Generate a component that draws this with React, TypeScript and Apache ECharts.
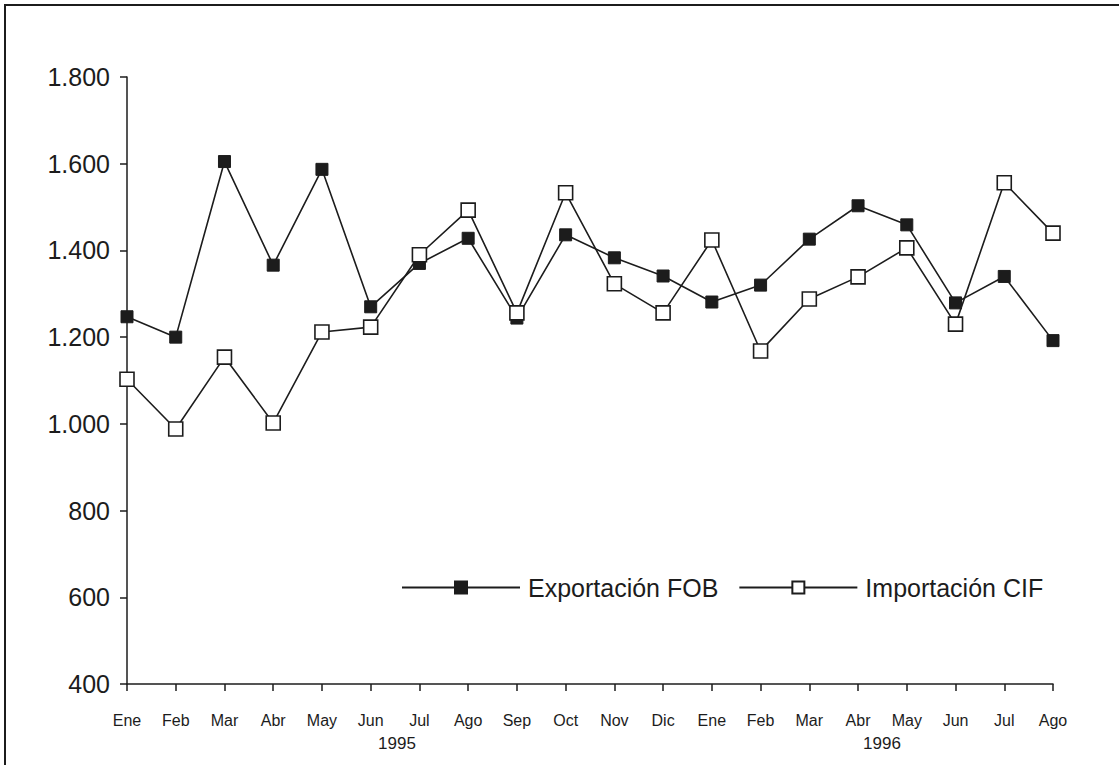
import React, { useEffect, useRef } from "react";
import * as echarts from "echarts";

const months = ["Ene","Feb","Mar","Abr","May","Jun","Jul","Ago","Sep","Oct","Nov","Dic","Ene","Feb","Mar","Abr","May","Jun","Jul","Ago"];
const exportacionFOB = [1247,1200,1605,1366,1587,1270,1370,1428,1244,1436,1383,1341,1281,1320,1426,1503,1459,1279,1340,1192];
const importacionCIF = [1103,988,1154,1002,1212,1223,1390,1493,1256,1533,1323,1256,1424,1168,1288,1339,1406,1230,1556,1440];
const yearLabels = ["1995", "1996"];
const seriesNames = ["Exportación FOB", "Importación CIF"];

const FONT = "'Liberation Sans', Arial, Helvetica, sans-serif";
const INK = "#1c1c1c";

export default function App() {
  const ref = useRef<HTMLDivElement>(null);
  useEffect(() => {
    if (!ref.current) return;
    const chart = echarts.init(ref.current, null, { renderer: "svg" });
    chart.setOption({
      animation: false,
      backgroundColor: "#ffffff",
      grid: { left: 127, right: 66, top: 77, bottom: 81, containLabel: false },
      xAxis: {
        type: "category",
        data: months,
        boundaryGap: false,
        axisLine: { lineStyle: { color: INK, width: 1.5 } },
        axisTick: { show: true, length: 7, lineStyle: { color: INK, width: 1.5 } },
        axisLabel: { color: INK, fontSize: 16, fontFamily: FONT, margin: 28, interval: 0 },
        splitLine: { show: false },
      },
      yAxis: {
        type: "value",
        min: 400,
        max: 1800,
        interval: 200,
        axisLine: { show: true, lineStyle: { color: INK, width: 1.5 } },
        axisTick: { show: true, inside: false, length: 7, lineStyle: { color: INK, width: 1.5 } },
        axisLabel: {
          color: INK,
          fontSize: 25,
          fontFamily: FONT,
          margin: 17,
          formatter: (v: number) => String(v).replace(/\B(?=(\d{3})+(?!\d))/g, "."),
        },
        splitLine: { show: false },
      },
      legend: {
        left: 401,
        top: 575,
        padding: 0,
        itemWidth: 118,
        itemHeight: 15,
        itemGap: 20,
        textStyle: { color: INK, fontSize: 25, fontFamily: FONT, padding: [0, 0, 0, 3] },
        data: seriesNames,
      },
      series: [
        {
          name: seriesNames[0],
          type: "line",
          data: exportacionFOB,
          symbol: "rect",
          symbolSize: 12,
          lineStyle: { color: INK, width: 1.6 },
          itemStyle: { color: INK, borderColor: INK, borderWidth: 1 },
          z: 2,
        },
        {
          name: seriesNames[1],
          type: "line",
          data: importacionCIF,
          symbol: "rect",
          symbolSize: 14,
          lineStyle: { color: INK, width: 1.6 },
          itemStyle: { color: "#ffffff", borderColor: INK, borderWidth: 1.6 },
          z: 3,
        },
      ],
      graphic: [
        {
          type: "rect",
          shape: { x: 5, y: 5, width: 1300, height: 900 },
          style: { fill: "none", stroke: INK, lineWidth: 2 },
          silent: true,
        },
        {
          type: "text",
          x: 397,
          y: 743,
          style: { text: yearLabels[0], fill: INK, font: `17px ${FONT}`, textAlign: "center", textVerticalAlign: "middle" },
        },
        {
          type: "text",
          x: 882,
          y: 743,
          style: { text: yearLabels[1], fill: INK, font: `17px ${FONT}`, textAlign: "center", textVerticalAlign: "middle" },
        },
      ],
    });
    return () => chart.dispose();
  }, []);
  return (
    <div
      ref={ref}
      style={{ position: "fixed", left: 0, top: 0, width: 1119, height: 765, background: "#fff" }}
    />
  );
}
